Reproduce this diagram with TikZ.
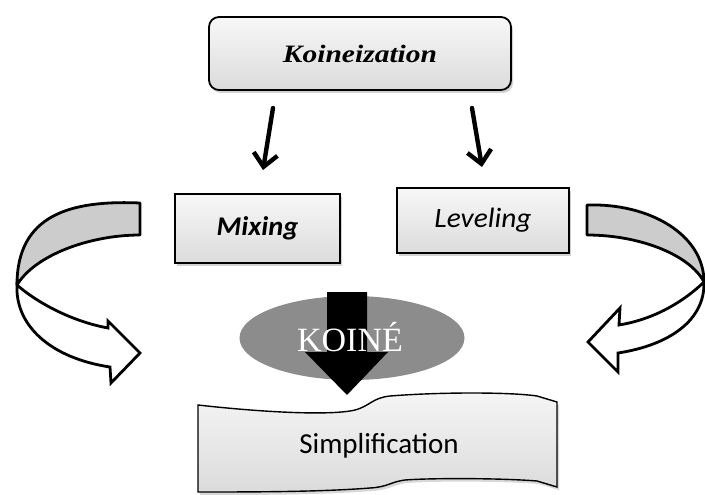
\documentclass[tikz,border=0pt]{standalone}
\usepackage{fontspec}
\setmainfont{Liberation Serif}
\newfontfamily\calib{Carlito}
\usetikzlibrary{shadows,arrows.meta,shapes.geometric}
\tikzset{
  boxstyle/.style={draw=black, line width=1.8pt, top color=gray!6, bottom color=gray!28,
    drop shadow={opacity=0.35, shadow xshift=2pt, shadow yshift=-3pt}, inner sep=0pt},
  handarrow/.style={line width=4.4pt, line cap=round, -{Straight Barb[length=13pt,width=24pt,line width=4.4pt]}},
  bandgray/.style={fill=gray!40, draw=black, line width=2.8pt, line join=round},
  bandwhite/.style={fill=white, draw=black, line width=2.8pt, line join=miter},
}
\begin{document}
\begin{tikzpicture}[x=1pt,y=-1pt]
\useasboundingbox (0,0) rectangle (705,495);
\fill[white] (0,0) rectangle (705,495);

% top box
\node[boxstyle, rounded corners=10pt, minimum width=302pt, minimum height=73pt] (koin) at (360,53.5)
  {\fontsize{25}{28}\selectfont\scalebox{1.18}[1]{\textbf{\textit{Koineization}}}};

% second row boxes
\node[boxstyle, line width=1.5pt, minimum width=165pt, minimum height=69pt] (mix) at (257.5,228.5)
  {\calib\fontsize{27}{30}\selectfont\scalebox{1.05}[1]{\textbf{\textit{Mixing}}}};
\node[boxstyle, line width=1.5pt, minimum width=172pt, minimum height=65pt] (lev) at (483,220.5)
  {\calib\fontsize{28}{30}\selectfont\scalebox{1.05}[1]{\textit{Leveling}}};

% hand-drawn arrows
\coordinate (a1s) at (273,108);
\coordinate (a1e) at (263,170);
\coordinate (a2s) at (472,108);
\coordinate (a2e) at (482,167);
\draw[handarrow] (a1s) -- (a1e);
\draw[handarrow] (a2s) -- (a2e);

% left curved arrow
\draw[bandgray] (140,203) .. controls (70,200) and (17,215) .. (17,285)
  .. controls (35,255) and (90,235) .. (140,235) -- cycle;
\draw[bandwhite] (17,285) .. controls (40,305) and (75,322) .. (108,328)
  -- (108,321) -- (140,353) -- (111,383) -- (110,367)
  .. controls (50,358) and (15,325) .. (17,285) -- cycle;

% right curved arrow
\draw[bandgray] (587,205) .. controls (650,203) and (704,235) .. (704,282)
  .. controls (690,255) and (640,235) .. (587,235) -- cycle;
\draw[bandwhite] (704,282) .. controls (680,305) and (650,320) .. (619,325)
  -- (620,308) -- (588,342) -- (618,372) -- (618,353)
  .. controls (670,345) and (705,320) .. (704,282) -- cycle;

% Simplification wavy banner
\draw[line width=1.4pt, top color=gray!8, bottom color=gray!28,
  drop shadow={opacity=0.3, shadow xshift=2pt, shadow yshift=-3pt}]
  (198,405) .. controls (260,412) and (330,416) .. (355,410)
  .. controls (370,406) and (372,398) .. (390,396)
  .. controls (440,392) and (510,392) .. (537,396) -- (557,402) -- (557,487)
  -- (537,481) .. controls (500,478) and (430,478) .. (405,480)
  .. controls (390,482) and (388,487) .. (370,488)
  .. controls (320,492) and (250,492) .. (198,492) -- cycle;
\node (simp) at (379,446) {\calib\fontsize{29}{32}\selectfont Simplification};

% ellipse KOINE
\node[ellipse, fill=black!45, minimum width=225pt, minimum height=84pt, inner sep=0pt] (ell) at (352,338) {};
\fill[black] (327,292) -- (367,292) -- (367,352) -- (388,352) -- (347,395) -- (305,352) -- (327,352) -- cycle;
\node[text=white] (koine) at (350,337) {\fontsize{34}{36}\selectfont KOINÉ};
\end{tikzpicture}
\end{document}
